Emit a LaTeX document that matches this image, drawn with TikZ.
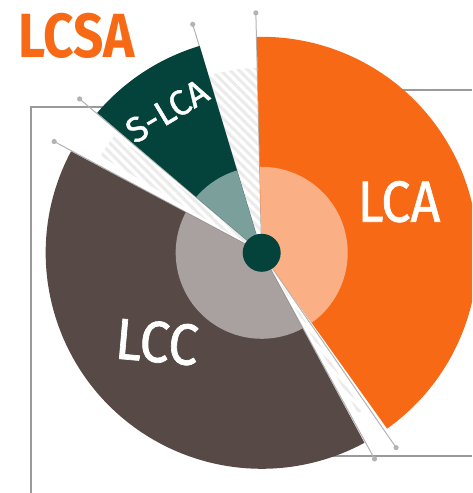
\documentclass[tikz,border=0pt]{standalone}
\usepackage{fontspec}
\setmainfont{Fira Sans}
\newfontfamily\labelfont[FakeBold=1.2]{Fira Sans}
\usetikzlibrary{patterns.meta}

\definecolor{lcaorange}{HTML}{F76915}
\definecolor{lcalight}{HTML}{FBAF85}
\definecolor{slcagreen}{HTML}{04433B}
\definecolor{slcalight}{HTML}{7B9F9B}
\definecolor{lccbrown}{HTML}{574946}
\definecolor{lcclight}{HTML}{A9A1A0}
\definecolor{framegray}{HTML}{9A9A9A}
\definecolor{dotgray}{HTML}{B3B3B3}
\definecolor{hatchgray}{HTML}{EBEBEB}

\begin{document}
\begin{tikzpicture}[x=0.2mm, y=0.2mm,
		frame/.style={draw=framegray, line width=0.25mm},
		leader/.style={draw=dotgray, line width=0.2mm},
		hatched/.style={pattern={Lines[angle=-45, distance=1.3mm, line width=0.6mm]}, pattern color=hatchgray},
		bigtext/.style={text=white, inner sep=0pt, font=\labelfont\fontsize{33}{33}\selectfont}]
			\useasboundingbox (-261.7, -240.2) rectangle (210.3, 252.8);
			\clip (-261.7, -240.2) rectangle (210.3, 252.8);
			\coordinate (hub) at (0, 0);

			% frame lines behind the wheel
			\draw [frame] (-230.7, -240.2) -- (-230.7, 145.8) -- (-150, 145.8);
			\draw [frame] (118, 162.8) -- (210.3, 162.8);
			\draw [frame] (58, -203.2) -- (210.3, -203.2);

			% hatched gaps
			\foreach \a/\b/\r in {91.3/106.7/185, 141/149/188, -59/-57.5/187}
				\fill [hatched] (hub) -- (\a:\r) arc[start angle=\a, end angle=\b, radius=\r] -- cycle;

			% leader lines
			\foreach \a/\r in {91.4/240, 106.8/238.7, 139.8/238.4, 151.8/235.5, -55.4/236.7, -61.3/235} {
				\draw [leader] (hub) -- (\a:\r);
				\fill [dotgray] (\a:\r) circle[radius=2.6];
			}

			% sectors
			\foreach \a/\b/\outer/\inner in {-54.5/91.3/lcaorange/lcalight, 106.7/139.6/slcagreen/slcalight, 152/298.4/lccbrown/lcclight} {
				\fill [\outer] (hub) -- (\a:216) arc[start angle=\a, end angle=\b, radius=216] -- cycle;
				\fill [\inner] (hub) -- (\a:86) arc[start angle=\a, end angle=\b, radius=86] -- cycle;
			}
			\fill [slcagreen] (hub) circle[radius=19];

			\node (lcsa) at (-184.7, 216.8) [text=lcaorange, inner sep=0pt, xscale=0.85, font=\fontsize{35.5}{35.5}\selectfont\bfseries] {LCSA};
			\node (lca) at (137.3, 51.1) [bigtext, xscale=0.9] {LCA};
			\node (lcc) at (-104.7, -89.2) [bigtext, rotate=-5, xscale=0.92] {LCC};
			\node (slca) at (-94.7, 141.8) [bigtext, rotate=31, font=\labelfont\fontsize{20}{20}\selectfont] {S-LCA};
		\end{tikzpicture}
\end{document}
